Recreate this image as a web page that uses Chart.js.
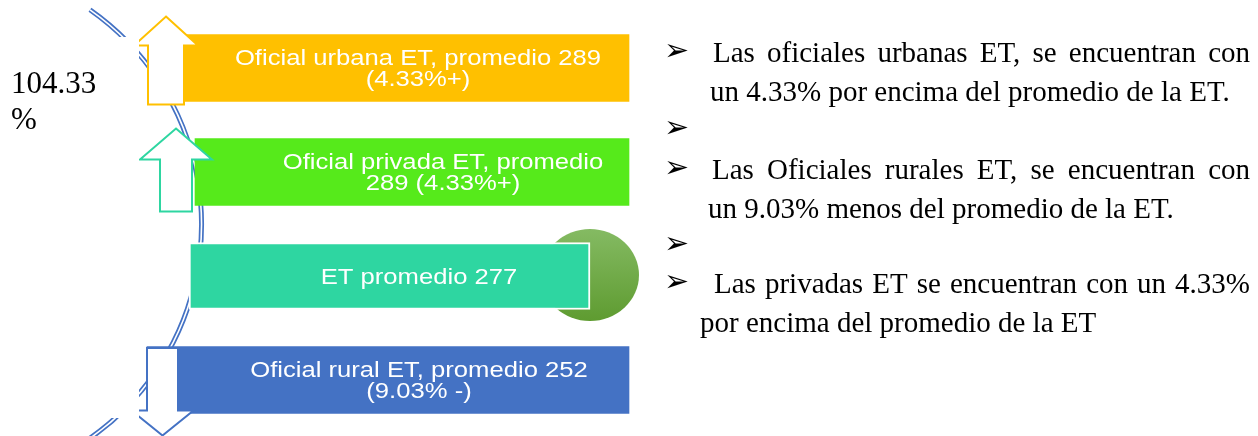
<!DOCTYPE html>
<html>
<head>
<meta charset="utf-8">
<script src="https://cdn.jsdelivr.net/npm/chart.js@4.4.1/dist/chart.umd.min.js"></script>
<style>
  html, body { margin: 0; padding: 0; background: #fff; }
  #wrap { width: 1258px; height: 436px; }
</style>
</head>
<body>
<div id="wrap"><canvas id="grafico" width="1258" height="436"></canvas></div>
<script>
// Datos del diagrama
const categorias = ['Oficial urbana ET', 'Oficial privada ET', 'ET', 'Oficial rural ET'];
const promedios = [289, 289, 277, 252];
const diferencias = ['4.33%+', '4.33%+', '', '9.03% -'];
const etiquetas = [
  ['Oficial urbana ET, promedio 289', '(4.33%+)'],
  ['Oficial privada ET, promedio', '289 (4.33%+)'],
  ['ET promedio 277'],
  ['Oficial rural ET, promedio 252', '(9.03% -)']
];
const porcentaje = ['104.33', '%'];
const vinetas = [
  { bullet: true,  texto: 'Las oficiales urbanas ET, se encuentran con', justificar: true },
  { bullet: false, texto: 'un 4.33% por encima del promedio de la ET.' },
  { bullet: true,  texto: '' },
  { bullet: true,  texto: 'Las Oficiales rurales ET, se encuentran con', justificar: true },
  { bullet: false, texto: 'un 9.03% menos del promedio de la ET.' },
  { bullet: true,  texto: '' },
  { bullet: true,  texto: 'Las privadas ET se encuentran con un 4.33%', justificar: true },
  { bullet: false, texto: 'por encima del promedio de la ET' }
];

// Maquetacion (unidades del eje x)
const cajaInicio = [183, 195, 189, 147];
const cajaFin = [629, 629, 590, 629];
const colores = ['#FFC000', '#56EA1B', '#2ED6A1', '#4472C4'];
const centroTexto = [418, 443, 419, 419];
const flechas = [
  { i: 0, dir: 'up',   dx: -17,  arriba: -18, abajo: 3,  tallo: 36, cabeza: 32, alto: 29, color: '#FFC000' },
  { i: 1, dir: 'up',   dx: -19,  arriba: -10, abajo: 6,  tallo: 32, cabeza: 36, alto: 31, color: '#2ED6A1' },
  { i: 3, dir: 'down', dx: 15.5, arriba: 1.5, abajo: 22, tallo: 31, cabeza: 31, alto: 25, color: '#4472C4' }
];
const lineaBase = [62, 101, 139, 179, 218, 255, 293, 332];
const inicioLinea = [713, 710, 713, 712, 708, 713, 714, 700];

function dibujarFlecha(ctx, f, cx, top, bottom) {
  const h = f.tallo / 2;
  ctx.beginPath();
  if (f.dir === 'up') {
    const hb = top + f.alto;
    ctx.moveTo(cx, top);
    ctx.lineTo(cx + f.cabeza, hb);
    ctx.lineTo(cx + h, hb);
    ctx.lineTo(cx + h, bottom);
    ctx.lineTo(cx - h, bottom);
    ctx.lineTo(cx - h, hb);
    ctx.lineTo(cx - f.cabeza, hb);
  } else {
    const hb = bottom - f.alto;
    ctx.moveTo(cx, bottom);
    ctx.lineTo(cx + f.cabeza, hb);
    ctx.lineTo(cx + h, hb);
    ctx.lineTo(cx + h, top);
    ctx.lineTo(cx - h, top);
    ctx.lineTo(cx - h, hb);
    ctx.lineTo(cx - f.cabeza, hb);
  }
  ctx.closePath();
  ctx.fillStyle = '#fff';
  ctx.fill();
  ctx.lineWidth = 2;
  ctx.strokeStyle = f.color;
  ctx.stroke();
}

const decoracion = {
  id: 'decoracion',
  beforeDatasetsDraw(chart) {
    const { ctx } = chart;
    const sx = chart.scales.x;
    // arco doble azul
    ctx.save();
    ctx.beginPath();
    ctx.arc(sx.getPixelForValue(-60), 224, 261.5, -0.96, 0.96);
    ctx.strokeStyle = '#4472C4';
    ctx.lineWidth = 5;
    ctx.stroke();
    ctx.strokeStyle = '#fff';
    ctx.lineWidth = 1.6;
    ctx.stroke();
    // circulo verde detras de "ET promedio"
    const b = chart.getDatasetMeta(0).data[2];
    const g = ctx.createLinearGradient(0, b.y - 46, 0, b.y + 46);
    g.addColorStop(0, '#84BA62');
    g.addColorStop(1, '#5E9B30');
    ctx.beginPath();
    ctx.ellipse(b.x, b.y - 1, 49, 46, 0, 0, Math.PI * 2);
    ctx.fillStyle = g;
    ctx.fill();
    ctx.restore();
  },
  afterDatasetsDraw(chart) {
    const { ctx } = chart;
    const sx = chart.scales.x;
    const barras = chart.getDatasetMeta(0).data;
    ctx.save();
    // flechas
    flechas.forEach(f => {
      const b = barras[f.i];
      const top = b.y - b.height / 2, bottom = b.y + b.height / 2;
      dibujarFlecha(ctx, f, b.base + f.dx, top + f.arriba, bottom + f.abajo);
    });
    // caja blanca del texto lateral
    ctx.fillStyle = '#fff';
    ctx.fillRect(0, 37, 139, 381);
    ctx.fillStyle = '#000';
    ctx.font = '31px "Liberation Serif"';
    ctx.textAlign = 'left';
    ctx.textBaseline = 'alphabetic';
    ctx.fillText(porcentaje[0], 11, 93);
    ctx.fillText(porcentaje[1], 11, 129);

    // etiquetas dentro de las barras
    ctx.fillStyle = '#fff';
    ctx.font = '22px "Liberation Sans"';
    ctx.textAlign = 'center';
    barras.forEach((b, i) => {
      const lineas = etiquetas[i];
      lineas.forEach((t, k) => {
        const y = b.y + 7.5 + (k - (lineas.length - 1) / 2) * 21.5;
        ctx.save();
        ctx.translate(sx.getPixelForValue(centroTexto[i]), y);
        ctx.scale(1.165, 1);
        ctx.fillText(t, 0, 0);
        ctx.restore();
      });
    });

    // texto de la derecha
    ctx.fillStyle = '#000';
    ctx.textAlign = 'left';
    vinetas.forEach((v, i) => {
      const y = lineaBase[i];
      if (v.bullet) {
        ctx.font = '30px "DejaVu Sans"';
        ctx.textBaseline = 'middle';
        ctx.fillText('\u27A2', 664, y - 10);
      }
      ctx.textBaseline = 'alphabetic';
      ctx.font = '29px "Liberation Serif"';
      if (!v.texto) return;
      const x0 = inicioLinea[i];
      if (v.justificar) {
        const palabras = v.texto.split(' ');
        const ancho = palabras.reduce((s, p) => s + ctx.measureText(p).width, 0);
        const hueco = (1250 - x0 - ancho) / (palabras.length - 1);
        let x = x0;
        palabras.forEach(p => {
          ctx.fillText(p, x, y);
          x += ctx.measureText(p).width + hueco;
        });
      } else {
        ctx.fillText(v.texto, x0, y);
      }
    });
    ctx.restore();
  }
};

new Chart(document.getElementById('grafico'), {
  type: 'bar',
  data: {
    labels: categorias,
    datasets: [{
      label: 'Promedio',
      data: categorias.map((c, i) => [cajaInicio[i], cajaFin[i]]),
      backgroundColor: colores,
      borderColor: ['rgba(0,0,0,0)', 'rgba(0,0,0,0)', '#ffffff', 'rgba(0,0,0,0)'],
      borderWidth: [0, 0, 2, 0],
      borderSkipped: false,
      barThickness: 67
    }]
  },
  options: {
    indexAxis: 'y',
    responsive: false,
    animation: false,
    devicePixelRatio: 1,
    layout: { padding: { top: 16, bottom: 4, left: 0, right: 0 } },
    scales: {
      x: { type: 'linear', min: 0, max: 1258, display: false },
      y: { display: false }
    },
    plugins: {
      legend: { display: false },
      tooltip: { enabled: false }
    }
  },
  plugins: [decoracion]
});
</script>
</body>
</html>
